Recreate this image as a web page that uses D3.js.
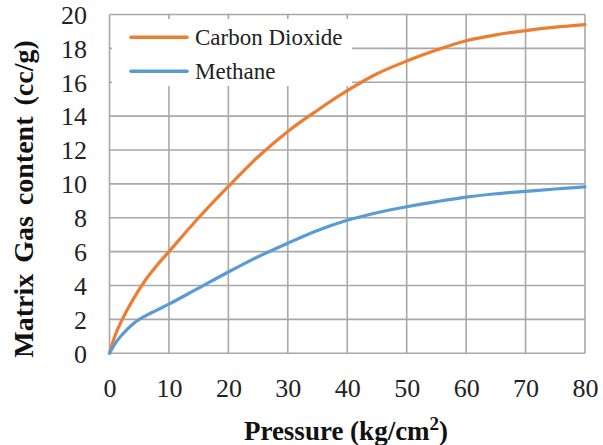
<!DOCTYPE html>
<html><head><meta charset="utf-8"><script src="https://cdn.jsdelivr.net/npm/d3@7"></script></head>
<body style="margin:0">
<svg id="chart" width="603" height="445" font-family="Liberation Serif" style="display:block;background:#fff"></svg>
<script>
// ---- data ----
const pressure = [0, 1, 2, 4, 6, 8, 10, 15, 20, 25, 30, 35, 40, 45, 50, 55, 60, 65, 70, 75, 80];
const carbonDioxide = [0, 1.1, 1.9, 3.2, 4.3, 5.2, 6.0, 8.0, 9.85, 11.6, 13.1, 14.35, 15.5, 16.5, 17.25, 17.9, 18.45, 18.8, 19.05, 19.25, 19.4];
const methane = [0, 0.6, 1.05, 1.75, 2.2, 2.55, 2.9, 3.85, 4.8, 5.7, 6.5, 7.25, 7.85, 8.3, 8.65, 8.95, 9.22, 9.42, 9.56, 9.7, 9.82];
const seriesNames = ["Carbon Dioxide", "Methane"];
const seriesColors = ["#ED7D31", "#5B9BD5"];
const xTicks = [0, 10, 20, 30, 40, 50, 60, 70, 80];
const yTicks = [0, 2, 4, 6, 8, 10, 12, 14, 16, 18, 20];

const svg = d3.select("#chart");
const pLeft = 109.5, pRight = 585, pTop = 14.5, pBottom = 353.3;
const x = d3.scaleLinear().domain([0, 80]).range([pLeft, pRight]);
const y = d3.scaleLinear().domain([0, 20]).range([pBottom, pTop]);
const gridColor = "#a8a8a8";

function serif(sel) {
  return sel.attr("font-family", "Liberation Serif").style("font-family", `"Liberation Serif"`);
}

// grid
const grid = svg.append("g");
grid.selectAll("line.h").data(yTicks).join("line").attr("class", "h")
  .attr("x1", pLeft).attr("x2", pRight)
  .attr("y1", d => y(d)).attr("y2", d => y(d))
  .attr("stroke", gridColor).attr("stroke-width", 1.6);
grid.selectAll("line.v").data(xTicks).join("line").attr("class", "v")
  .attr("x1", d => x(d)).attr("x2", d => x(d))
  .attr("y1", pTop).attr("y2", pBottom)
  .attr("stroke", gridColor).attr("stroke-width", 1.6);

// tick labels
const xAxis = d3.axisBottom(x).tickValues(xTicks).tickSize(0).tickPadding(0).tickFormat(d3.format("d"));
const gx = svg.append("g").attr("transform", `translate(0,${pBottom})`).call(xAxis);
serif(gx);
gx.select(".domain").remove();
serif(gx.selectAll("text")).attr("font-size", 26).attr("fill", "#222")
  .attr("dy", null).attr("y", 44);

const yAxis = d3.axisLeft(y).tickValues(yTicks).tickSize(0).tickPadding(0).tickFormat(d3.format("d"));
const gy = svg.append("g").attr("transform", `translate(87,0)`).call(yAxis);
serif(gy);
gy.select(".domain").remove();
serif(gy.selectAll("text")).attr("font-size", 26).attr("fill", "#222")
  .attr("dy", "0.34em");

// legend background covering grid
svg.append("rect").attr("x", 112).attr("y", 19).attr("width", 240).attr("height", 67).attr("fill", "#fff");

// lines
const line = d3.line().x((d, i) => x(pressure[i])).y(d => y(d)).curve(d3.curveCatmullRom.alpha(0.5));
[carbonDioxide, methane].forEach((vals, k) => {
  svg.append("path").datum(vals).attr("d", line)
    .attr("fill", "none").attr("stroke", seriesColors[k]).attr("stroke-width", 3.2)
    .attr("stroke-linejoin", "round").attr("stroke-linecap", "round");
});

// legend
const legendY = [37.3, 71.3];
seriesNames.forEach((name, k) => {
  svg.append("line").attr("x1", 131).attr("x2", 187).attr("y1", legendY[k]).attr("y2", legendY[k])
    .attr("stroke", seriesColors[k]).attr("stroke-width", 3.5).attr("stroke-linecap", "round");
  serif(svg.append("text")).attr("x", 195).attr("y", legendY[k]).attr("dy", "0.34em")
    .attr("font-size", 23).attr("fill", "#222").text(name);
});

// axis titles
const xt = serif(svg.append("text")).attr("x", 346).attr("y", 440).attr("text-anchor", "middle")
  .attr("font-size", 27).attr("font-weight", "bold").attr("fill", "#111");
xt.append("tspan").text("Pressure (kg/cm");
xt.append("tspan").attr("dy", -10).attr("font-size", 19).text("2");
xt.append("tspan").attr("dy", 10).text(")");

serif(svg.append("text")).attr("transform", "translate(33,199) rotate(-90)").attr("text-anchor", "middle")
  .attr("font-size", 28).attr("font-weight", "bold").attr("fill", "#111")
  .attr("word-spacing", 4)
  .text("Matrix Gas content (cc/g)");
</script>
</body>
</html>
